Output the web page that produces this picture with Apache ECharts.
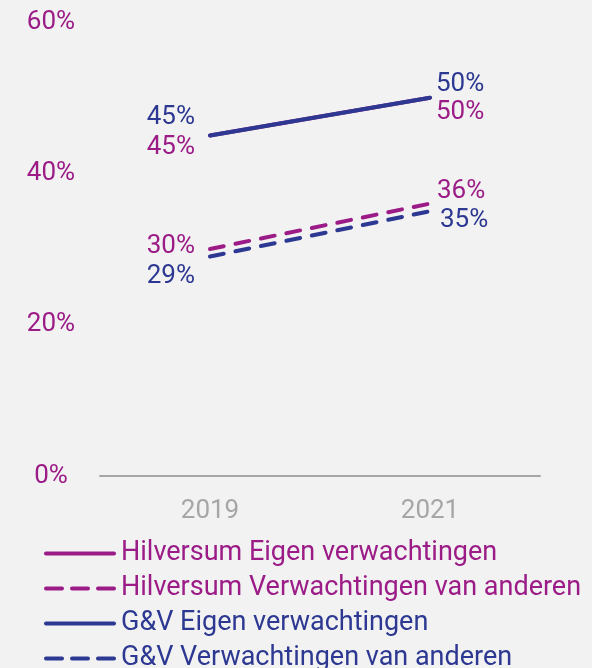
<!DOCTYPE html>
<html>
<head>
<meta charset="utf-8">
<style>
html,body{margin:0;padding:0;background:#f2f2f2;}
#c{width:592px;height:668px;}
</style>
<script src="https://cdn.jsdelivr.net/npm/echarts@6/dist/echarts.min.js"></script>
</head>
<body>
<div id="c"></div>
<script>
const categories = ['2019', '2021'];
const yTicks = [0, 20, 40, 60];
const seriesNames = ['Hilversum Eigen verwachtingen', 'Hilversum Verwachtingen van anderen', 'G&V Eigen verwachtingen', 'G&V Verwachtingen van anderen'];
const hilversumEigen = [45, 50];
const hilversumAnderen = [30, 36];
const gvEigen = [45, 50];
const gvAnderen = [29, 35];

const PURPLE = '#9b1c87';
const BLUE = '#2c3891';
const FONT = 'Roboto';
const FS = 26;
const LEGEND_FS = 27;

// label placement per series per category: [position, distance, dy]
const labelPlacement = [
  [['left', 15, 12], ['right', 6, 15]],
  [['left', 15, -3], ['right', 7, -12]],
  [['left', 15, -18], ['right', 6, -13]],
  [['left', 15, 20], ['right', 10, 9]]
];
const values = [hilversumEigen, hilversumAnderen, gvEigen, gvAnderen];
const colors = [PURPLE, PURPLE, BLUE, BLUE];
const dashed = [false, true, false, true];
const DASH = [14, 12];

const series = values.map((vals, si) => ({
  name: seriesNames[si],
  type: 'line',
  symbol: 'circle',
  symbolSize: 0,
  z: si >= 2 ? 3 : 2,
  lineStyle: {
    color: colors[si],
    width: 4,
    type: dashed[si] ? DASH : 'solid',
    cap: 'round'
  },
  itemStyle: { color: colors[si] },
  data: vals.map((v, i) => ({
    value: v,
    label: {
      show: true,
      position: labelPlacement[si][i][0],
      distance: labelPlacement[si][i][1],
      offset: [0, labelPlacement[si][i][2]],
      formatter: '{c}%',
      color: colors[si],
      fontFamily: FONT,
      fontSize: FS
    }
  }))
}));

const chart = echarts.init(document.getElementById('c'));
chart.setOption({
  backgroundColor: '#f2f2f2',
  animation: false,
  grid: { left: 100, right: 52, top: 22, bottom: 192, containLabel: false },
  xAxis: {
    type: 'category',
    data: categories,
    boundaryGap: true,
    axisLine: { show: true, lineStyle: { color: '#a6a6a6', width: 2 } },
    axisTick: { show: false },
    axisLabel: { color: '#a6a6a6', fontFamily: FONT, fontSize: FS, margin: 22 }
  },
  yAxis: {
    type: 'value',
    min: yTicks[0],
    max: yTicks[yTicks.length - 1],
    interval: yTicks[1] - yTicks[0],
    axisLine: { show: false },
    axisTick: { show: false },
    splitLine: { show: false },
    axisLabel: { color: PURPLE, fontFamily: FONT, fontSize: FS, align: 'center', margin: 49, formatter: '{value}%' }
  },
  legend: {
    orient: 'vertical',
    left: 44,
    top: 540,
    padding: 0,
    height: 200,
    itemWidth: 68,
    itemHeight: 4,
    itemGap: 8,
    itemStyle: { opacity: 0 },
    textStyle: { fontFamily: FONT, fontSize: LEGEND_FS, padding: [0, 0, 0, 2] },
    data: seriesNames.map((n, i) => ({
      name: n,
      textStyle: { color: colors[i] },
      lineStyle: { width: 4, type: dashed[i] ? [16, 10] : 'solid', cap: 'round' }
    }))
  },
  series: series
});
</script>
</body>
</html>
